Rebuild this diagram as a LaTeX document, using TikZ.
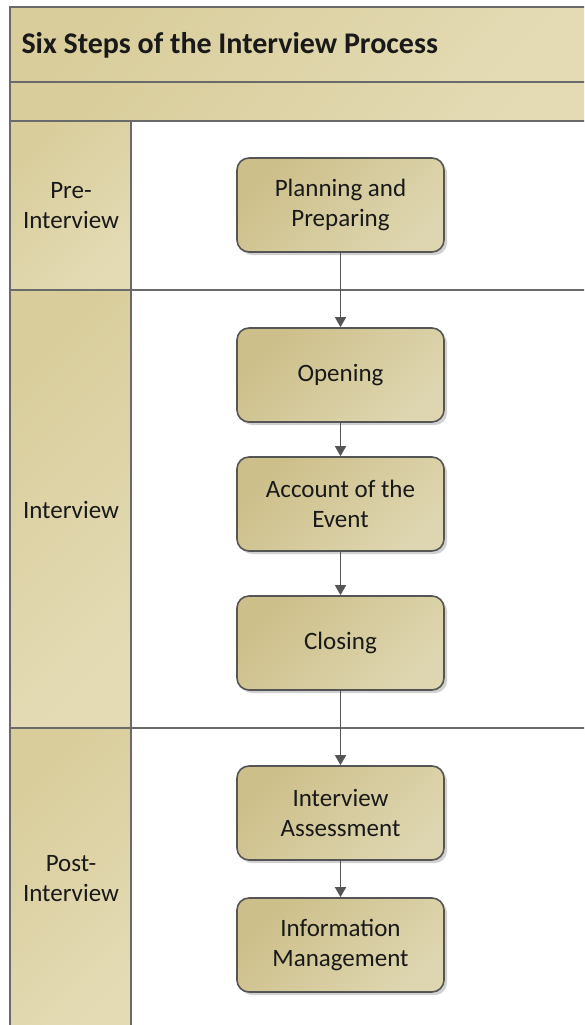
\documentclass[tikz,border=0pt]{standalone}
\usepackage{fontspec}
\setmainfont{Carlito}
\usetikzlibrary{arrows.meta,shadows}
\definecolor{tanD}{HTML}{CDBF8A}
\definecolor{tanL}{HTML}{DED6B0}
\definecolor{bandD}{HTML}{D9CD9B}
\definecolor{bandL}{HTML}{E4DBB5}
\definecolor{rule}{HTML}{6A6A6A}
\definecolor{edge}{HTML}{555555}
\tikzset{
  stepbox/.style={draw=edge, line width=1.6pt, rounded corners=12pt,
    minimum width=207pt, minimum height=94pt, align=center,
    left color=tanD, right color=tanL, shading angle=45,
    font=\fontsize{25}{30}\selectfont, text=black!90,
    drop shadow={shadow xshift=3pt, shadow yshift=-3pt, fill=black!30, opacity=0.6}},
  lanelabel/.style={align=center, font=\fontsize{25}{30}\selectfont, text=black!90},
  flow/.style={draw=edge, line width=1.5pt, -{Triangle[width=11pt,length=10pt]}},
  band/.style={left color=bandD, right color=bandL, shading angle=45},
}
\begin{document}
\begin{tikzpicture}[x=1pt,y=-1pt]
\useasboundingbox (0,0) rectangle (584,1025);
\clip (0,0) rectangle (584,1025);
% header bands and lane column
\shade[band] (10,7) rectangle (600,82);
\shade[band] (10,82) rectangle (600,121);
\shade[band] (10,121) rectangle (131,290);
\shade[band] (10,290) rectangle (131,728);
\shade[band] (10,728) rectangle (131,1040);
% pool and lane rules
\draw[rule, line width=1.6pt] (10,7) rectangle (600,1040);
\draw[rule, line width=1.6pt] (10,82) -- (600,82);
\draw[rule, line width=1.6pt] (10,121) -- (600,121);
\draw[rule, line width=1.6pt] (10,290) -- (600,290);
\draw[rule, line width=1.6pt] (10,728) -- (600,728);
\draw[rule, line width=1.6pt] (131,121) -- (131,1040);
% title and lane names
\node[anchor=west, font=\bfseries\fontsize{30}{34}\selectfont, text=black!90] (title) at (18,45) {Six Steps of the Interview Process};
\node[lanelabel] (pre) at (71,206) {Pre-\\Interview};
\node[lanelabel] (mid) at (71,510) {Interview};
\node[lanelabel] (post) at (71,879) {Post-\\Interview};
% process steps
\node[stepbox] (s1) at (340.5,205) {Planning and\\Preparing};
\node[stepbox] (s2) at (340.5,375) {Opening};
\node[stepbox] (s3) at (340.5,504) {Account of the\\Event};
\node[stepbox] (s4) at (340.5,643) {Closing};
\node[stepbox] (s5) at (340.5,813) {Interview\\Assessment};
\node[stepbox] (s6) at (340.5,945) {Information\\Management};
% connectors
\draw[flow] (s1) -- (s2);
\draw[flow] (s2) -- (s3);
\draw[flow] (s3) -- (s4);
\draw[flow] (s4) -- (s5);
\draw[flow] (s5) -- (s6);
\end{tikzpicture}
\end{document}
